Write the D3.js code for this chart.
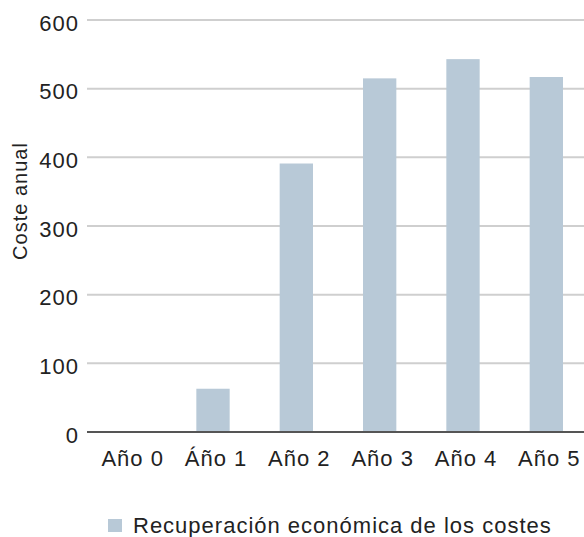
<!DOCTYPE html>
<html>
<head>
<meta charset="utf-8">
<title>Coste anual</title>
<script src="https://d3js.org/d3.v7.min.js"></script>
<style>
  body { margin: 0; background: #fff; }
  text { font-family: "Liberation Sans", Arial, sans-serif; fill: #222; letter-spacing: 1px; }
</style>
</head>
<body>
<svg id="chart" width="584" height="537"></svg>
<script>
// data
var categories = ["Año 0", "Áño 1", "Año 2", "Año 3", "Año 4", "Año 5"];
var values = [0, 63, 391, 515, 543, 517];
var yTicks = [0, 100, 200, 300, 400, 500, 600];
var seriesName = "Recuperación económica de los costes";
var yTitle = "Coste anual";

var svg = d3.select("#chart");
var plotL = 88, plotR = 588, plotT = 20, plotB = 432;

var x = d3.scaleBand().domain(categories).range([plotL, plotR])
    .paddingInner(0.6).paddingOuter(0.3);
var y = d3.scaleLinear().domain([0, 600]).range([plotB, plotT]);

// gridlines
svg.append("g").selectAll("line")
    .data(yTicks.filter(function(d) { return d > 0; }))
    .enter().append("line")
    .attr("x1", plotL - 1).attr("x2", 584)
    .attr("y1", function(d) { return y(d); })
    .attr("y2", function(d) { return y(d); })
    .attr("stroke", "#cfcfcf").attr("stroke-width", 2);

// bars
svg.append("g").selectAll("rect")
    .data(values)
    .enter().append("rect")
    .attr("x", function(d, i) { return x(categories[i]); })
    .attr("width", x.bandwidth())
    .attr("y", function(d) { return y(d); })
    .attr("height", function(d) { return y(0) - y(d); })
    .attr("fill", "#b8c9d7");

// baseline
svg.append("line")
    .attr("x1", plotL - 1).attr("x2", 584)
    .attr("y1", y(0)).attr("y2", y(0))
    .attr("stroke", "#555").attr("stroke-width", 2);

// y axis labels
var yAxis = d3.axisLeft(y).tickValues(yTicks).tickSize(0).tickPadding(8);
var gy = svg.append("g").attr("transform", "translate(" + (plotL - 1) + ",3)").call(yAxis);
gy.select(".domain").remove();
gy.selectAll("text").style("font-size", "22px").attr("fill", "#222")
    .style("font-family", "'Liberation Sans', Arial, sans-serif");

// x axis labels
var xAxis = d3.axisBottom(x).tickSize(0).tickPadding(18);
var gx = svg.append("g").attr("transform", "translate(3," + plotB + ")").call(xAxis);
gx.select(".domain").remove();
gx.selectAll("text").style("font-size", "22px").attr("fill", "#222")
    .style("font-family", "'Liberation Sans', Arial, sans-serif");

// y title
svg.append("text")
    .attr("transform", "translate(27,201) rotate(-90)")
    .attr("text-anchor", "middle")
    .style("font-size", "20px")
    .text(yTitle);

// legend
svg.append("rect").attr("x", 108).attr("y", 519)
    .attr("width", 14).attr("height", 13).attr("fill", "#b8c9d7");
svg.append("text").attr("x", 133).attr("y", 533)
    .style("font-size", "22px")
    .text(seriesName);
</script>
</body>
</html>
